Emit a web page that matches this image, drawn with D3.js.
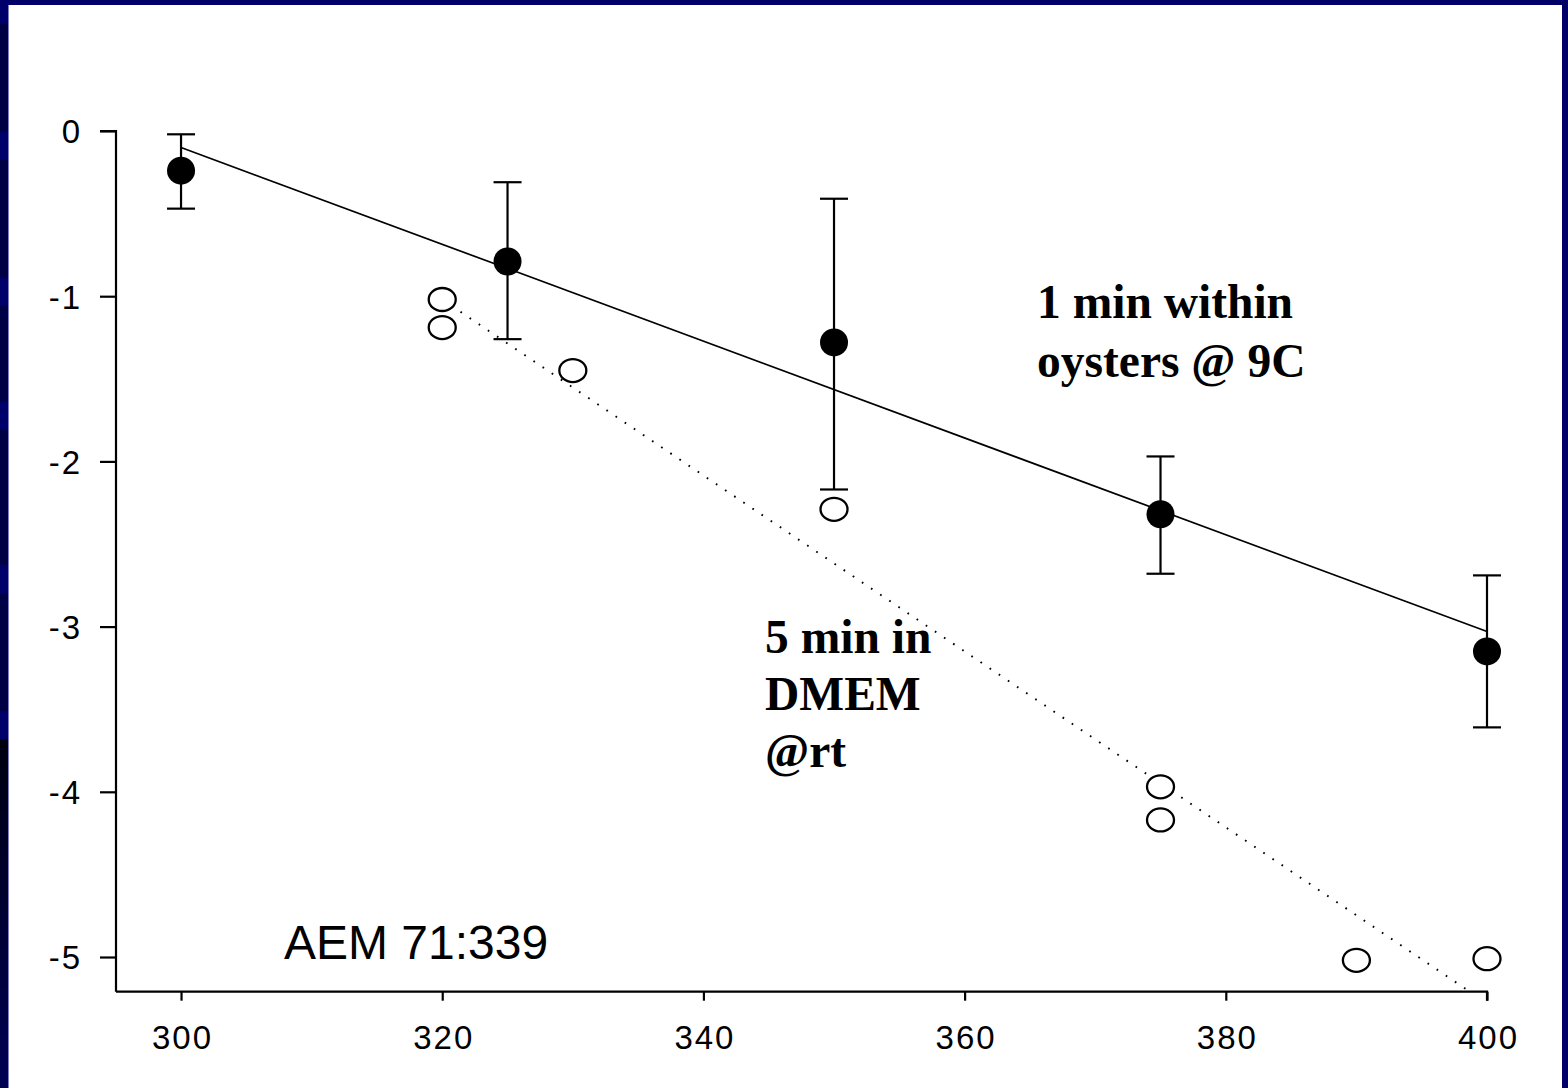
<!DOCTYPE html>
<html><head><meta charset="utf-8">
<script src="https://cdn.jsdelivr.net/npm/d3@7"></script>
<style>html,body{margin:0;padding:0;background:#000066;}svg{display:block;}</style>
</head><body>
<script>
// Data
const xTicks = [300, 320, 340, 360, 380, 400];
const yTicks = [0, -1, -2, -3, -4, -5];
const solidX = [300, 325, 350, 375, 400];
const solidY = [-0.24, -0.79, -1.28, -2.32, -3.15];
const solidErrHi = [-0.02, -0.31, -0.41, -1.97, -2.69];
const solidErrLo = [-0.47, -1.26, -2.17, -2.68, -3.61];
const solidFitX = [300, 400];
const solidFitY = [-0.10, -3.03];
const openX = [320, 320, 330, 350, 375, 375, 390, 400];
const openY = [-1.02, -1.19, -1.45, -2.29, -3.97, -4.17, -5.02, -5.01];
const openFitX = [320, 400];
const openFitY = [-1.02, -5.28];
const labelSolid = ["1 min within", "oysters @ 9C"];
const labelOpen = ["5 min in", "DMEM", "@rt"];
const citation = "AEM 71:339";

const W = 1568, H = 1088;
const svg = d3.select("body").append("svg").attr("width", W).attr("height", H);

// Background frame
svg.append("rect").attr("x",0).attr("y",0).attr("width",W).attr("height",H).attr("fill","#000066");
const bands = [[0,24,"#00006a"],[24,132,"#000044"],[132,160,"#00006a"],[160,278,"#000044"],[278,305,"#00006a"],[305,402,"#000044"],[402,430,"#00006a"],[430,565,"#000044"],[565,593,"#00006a"],[593,711,"#000044"],[711,739,"#00006a"]];
bands.forEach(b => svg.append("rect").attr("x",0).attr("y",b[0]).attr("width",9).attr("height",b[1]-b[0]).attr("fill",b[2]));
const defs = svg.append("defs");
const grad = defs.append("linearGradient").attr("id","lg").attr("x1",0).attr("y1",0).attr("x2",0).attr("y2",1);
grad.append("stop").attr("offset","0").attr("stop-color","#000010");
grad.append("stop").attr("offset","1").attr("stop-color","#000055");
svg.append("rect").attr("x",0).attr("y",739).attr("width",9).attr("height",H-739).attr("fill","url(#lg)");
svg.append("rect").attr("x",9).attr("y",5).attr("width",1553).attr("height",H-5).attr("fill","#ffffff");
svg.append("rect").attr("x",8).attr("y",5).attr("width",1).attr("height",H-5).attr("fill","#8080c0");

// Scales
const x = d3.scaleLinear().domain([295.02, 400]).range([116, 1487]);
const y = d3.scaleLinear().domain([0, -5.21]).range([131, 991.7]);

const g = svg.append("g");
defs.append("clipPath").attr("id","clip").append("rect")
  .attr("x",116).attr("y",0).attr("width",1487-116+20).attr("height",991.7);

// Axes
const fmt = d => String(d);
const yAxis = d3.axisLeft(y).tickValues(yTicks).tickFormat(fmt).tickSize(16).tickPadding(20);
const xAxis = d3.axisBottom(x).tickValues(xTicks).tickFormat(fmt).tickSize(9).tickPadding(25);
const ya = g.append("g").attr("transform","translate(116,0)").call(yAxis);
const xa = g.append("g").attr("transform","translate(0,991.7)").call(xAxis);
[ya, xa].forEach(a => {
  a.select(".domain").attr("stroke","#000").attr("stroke-width",2.2);
  a.selectAll(".tick line").attr("stroke","#000").attr("stroke-width",2.2);
  a.selectAll(".tick text").attr("fill","#000").attr("font-family","Liberation Sans, Arial, sans-serif")
    .attr("font-size",33).attr("letter-spacing","2px");
});
ya.select(".domain").attr("d", `M-16,${y(0)}H0V${y(-5.21)}`);
xa.select(".domain").attr("d", `M${x(295.02)},0H${x(400)}V9`);
ya.selectAll(".tick text").attr("dy","0.36em").attr("dx","2");
xa.selectAll(".tick text").attr("dy","0.71em").attr("dx","1");

// Fit lines
g.append("line").attr("x1",x(solidFitX[0])).attr("y1",y(solidFitY[0])).attr("x2",x(solidFitX[1])).attr("y2",y(solidFitY[1]))
  .attr("stroke","#000").attr("stroke-width",1.7);
g.append("line").attr("clip-path","url(#clip)")
  .attr("x1",x(openFitX[0])).attr("y1",y(openFitY[0])).attr("x2",x(openFitX[1])).attr("y2",y(openFitY[1]))
  .attr("stroke","#000").attr("stroke-width",1.9).attr("stroke-dasharray","1.7 9.3");

// Error bars
const eb = g.append("g");
solidX.forEach((v,i) => {
  eb.append("line").attr("x1",x(v)).attr("x2",x(v)).attr("y1",y(solidErrHi[i])).attr("y2",y(solidErrLo[i])).attr("stroke","#000").attr("stroke-width",2.2);
  [solidErrHi[i], solidErrLo[i]].forEach(e => eb.append("line").attr("x1",x(v)-14).attr("x2",x(v)+14).attr("y1",y(e)).attr("y2",y(e)).attr("stroke","#000").attr("stroke-width",2.2));
});

// Open circles
g.append("g").selectAll("ellipse").data(openX).join("ellipse")
  .attr("cx",(d)=>x(d)).attr("cy",(d,i)=>y(openY[i])).attr("rx",13.5).attr("ry",11.5)
  .attr("fill","#fff").attr("stroke","#000").attr("stroke-width",2.3);

// Filled circles
g.append("g").selectAll("circle").data(solidX).join("circle")
  .attr("cx",(d)=>x(d)).attr("cy",(d,i)=>y(solidY[i])).attr("r",14).attr("fill","#000");

// Labels
const serif = "Liberation Serif, Times New Roman, serif";
labelSolid.forEach((t,i) => svg.append("text").attr("x",1037).attr("y",318+i*59).text(t)
  .attr("font-family",serif).attr("font-weight","bold").attr("font-size",47.5).attr("fill","#000"));
labelOpen.forEach((t,i) => svg.append("text").attr("x",765).attr("y",653+i*57).text(t)
  .attr("font-family",serif).attr("font-weight","bold").attr("font-size",47.5).attr("fill","#000"));
svg.append("text").attr("x",284).attr("y",959).text(citation)
  .attr("font-family","Liberation Sans, Arial, sans-serif").attr("font-size",48).attr("fill","#000");
</script>
</body></html>
